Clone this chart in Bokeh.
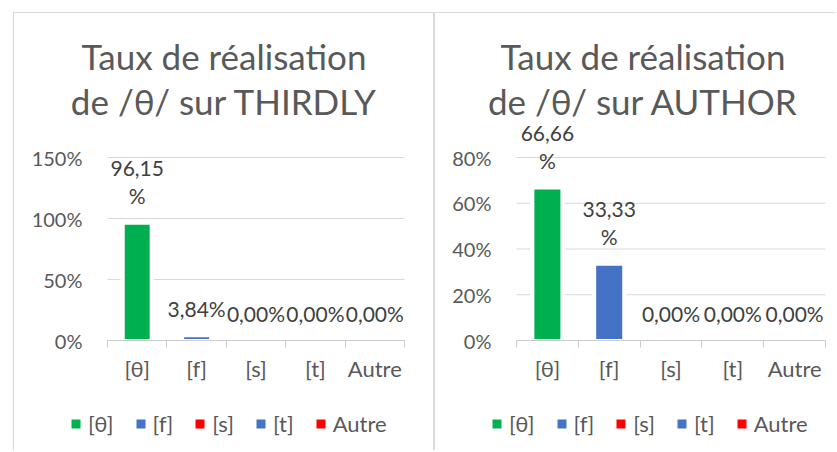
from bokeh.plotting import figure
from bokeh.models import (ColumnDataSource, Range1d, FixedTicker, NumeralTickFormatter,
                          LabelSet, Label, Legend, LegendItem)
from bokeh.core.properties import value
from bokeh.layouts import row
from bokeh.embed import file_html
from bokeh.resources import INLINE

# ---------------- data ----------------
categories = ["[θ]", "[f]", "[s]", "[t]", "Autre"]
bar_colors = ["#00B050", "#4472C4", "#FF0000", "#4472C4", "#FF0000"]

thirdly_title = ["Taux de réalisation", "de /θ/ sur THIRDLY"]
thirdly_values = [0.9615, 0.0384, 0.0, 0.0, 0.0]
thirdly_labels = ["96,15%", "3,84%", "0,00%", "0,00%", "0,00%"]
thirdly_ticks = [0.0, 0.5, 1.0, 1.5]

author_title = ["Taux de réalisation", "de /θ/ sur AUTHOR"]
author_values = [0.6666, 0.3333, 0.0, 0.0, 0.0]
author_labels = ["66,66%", "33,33%", "0,00%", "0,00%", "0,00%"]
author_ticks = [0.0, 0.2, 0.4, 0.6, 0.8]

FONT = "Lato"
TXT = "#595959"
LAB = "#404040"
GRID = "#d9d9d9"
AXIS = "#cccccc"
H = 438          # canvas height
AXIS_Y = 327     # px from canvas top to the 0 line
GRID_TOP = 144   # px from canvas top to the top gridline


def make_chart(title, values, labels, yticks, width, plot_left, plot_right,
               title_x, margin, styles):
    n = len(categories)
    xs = [i + 0.5 for i in range(n)]
    lab_top, lab_bot = [], []
    for s in labels:
        if len(s) > 5:
            lab_top.append(s[:-1])
            lab_bot.append("%")
        else:
            lab_top.append("")
            lab_bot.append(s)
    src = ColumnDataSource(dict(x=xs, top=values, cat=categories, color=bar_colors,
                                lab_top=lab_top, lab_bot=lab_bot))

    # the frame fills the whole canvas; axes are pinned inside it
    ppx = (plot_right - plot_left) / n
    ymax = yticks[-1]
    ppy = (AXIS_Y - GRID_TOP) / ymax
    x_range = Range1d(-plot_left / ppx, (width - plot_left) / ppx)
    y_range = Range1d(-(H - AXIS_Y) / ppy, AXIS_Y / ppy)

    p = figure(width=width, height=H, x_range=x_range, y_range=y_range,
               output_backend="svg", toolbar_location=None,
               min_border=0, margin=margin)
    p.styles = styles
    p.outline_line_color = None
    p.background_fill_color = "white"
    p.border_fill_color = "white"
    p.xgrid.visible = False
    p.ygrid.visible = False

    # horizontal gridlines
    p.segment(x0=[0] * len(yticks), x1=[n] * len(yticks), y0=yticks, y1=yticks,
              line_color=GRID, line_width=1)

    # white halo around bars (hides gridlines next to bars)
    p.vbar(x="x", top="top", bottom=0, width=0.56, source=src,
           fill_color="white", line_color=None)
    r = p.vbar(x="x", top="top", bottom=0, width=0.47, source=src,
               fill_color="color", line_color="white", line_width=3)

    xa = p.xaxis[0]
    xa.fixed_location = 0
    xa.bounds = (0, n)
    xa.ticker = FixedTicker(ticks=xs, minor_ticks=list(range(n + 1)))
    xa.major_label_overrides = {x: c for x, c in zip(xs, categories)}
    xa.major_tick_line_color = None
    xa.major_tick_in = 0
    xa.major_tick_out = 7
    xa.minor_tick_in = 0
    xa.minor_tick_out = 7
    xa.minor_tick_line_color = AXIS
    xa.axis_line_color = AXIS
    xa.major_label_standoff = 7
    xa.major_label_text_font = FONT
    xa.major_label_text_font_size = "22px"
    xa.major_label_text_color = TXT

    ya = p.yaxis[0]
    ya.fixed_location = 0
    ya.ticker = FixedTicker(ticks=yticks)
    ya.formatter = NumeralTickFormatter(format="0%")
    ya.axis_line_color = None
    ya.major_tick_line_color = None
    ya.minor_tick_line_color = None
    ya.major_tick_out = 0
    ya.major_tick_in = 0
    ya.major_label_standoff = 25
    ya.major_label_text_font = FONT
    ya.major_label_text_font_size = "20px"
    ya.major_label_text_color = TXT

    # data labels
    for col, off in (("lab_bot", 19), ("lab_top", 47.5)):
        p.add_layout(LabelSet(x="x", y="top", text=col, source=src, y_offset=off,
                              text_align="center", text_baseline="alphabetic",
                              text_font=value(FONT), text_font_size=value("21px"),
                              text_color=LAB))

    # title (two lines), centred on the panel
    for line, yb in zip(title, (42, 87)):
        p.add_layout(Label(x=title_x, y=H - yb,
                           x_units="screen", y_units="screen", text=line,
                           text_align="center", text_baseline="alphabetic",
                           text_font=FONT, text_font_size="35px", text_color=TXT))

    legend = Legend(items=[LegendItem(label=c, renderers=[r], index=i)
                           for i, c in enumerate(categories)],
                    orientation="horizontal", location=(54, H - 424),
                    glyph_width=15, glyph_height=15, label_standoff=5, spacing=19,
                    padding=0, margin=0, border_line_color=None,
                    background_fill_alpha=0,
                    label_text_font=FONT, label_text_font_size="22px",
                    label_text_color=TXT)
    p.add_layout(legend)
    return p


p1 = make_chart(thirdly_title, thirdly_values, thirdly_labels, thirdly_ticks,
                width=420, plot_left=93, plot_right=390, title_x=209.5,
                margin=(12, 0, 0, 13),
                styles={"border-top": "1px solid #d9d9d9", "border-left": "1px solid #d9d9d9"})
p2 = make_chart(author_title, author_values, author_labels, author_ticks,
                width=402, plot_left=81, plot_right=390, title_x=207.5,
                margin=(12, 0, 0, 0),
                styles={"border-top": "1px solid #d9d9d9", "border-left": "2px solid #d9d9d9"})

layout = row(p1, p2)
open("out.html", "w").write(file_html(layout, INLINE))
